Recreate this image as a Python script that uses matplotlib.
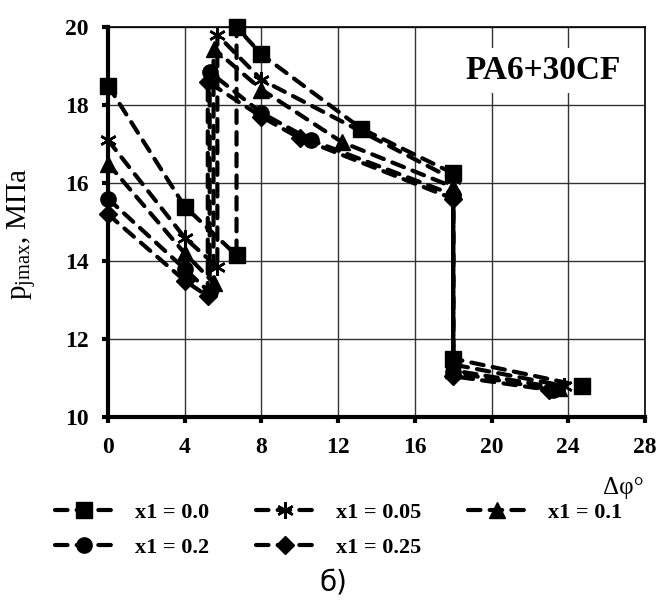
import matplotlib
matplotlib.use("Agg")
import matplotlib.pyplot as plt

# Δφ (deg) and p_jmax (MPa) for each x1 series
labels = ["x1 = 0.0", "x1 = 0.05", "x1 = 0.1", "x1 = 0.2", "x1 = 0.25"]
markers = ["s", (6, 2, 0), "^", "o", "D"]

x_00 = [0, 4, 6.7, 6.7, 8, 13.2, 18, 18, 24.7]
y_00 = [18.5, 15.4, 14.15, 20.0, 19.3, 17.4, 16.25, 11.5, 10.8]

x_05 = [0, 4, 5.7, 5.7, 8, 18, 18, 23.8]
y_05 = [17.1, 14.6, 13.85, 19.8, 18.65, 16.1, 11.35, 10.8]

x_10 = [0, 4, 5.5, 5.5, 8, 12.2, 18, 18, 23.5]
y_10 = [16.5, 14.2, 13.45, 19.45, 18.4, 17.05, 15.9, 11.2, 10.75]

x_20 = [0, 4, 5.3, 5.3, 8, 10.6, 18, 18, 23.2]
y_20 = [15.6, 13.8, 13.2, 18.85, 17.8, 17.1, 15.7, 11.15, 10.7]

x_25 = [0, 4, 5.2, 5.2, 8, 10.0, 18, 18, 23.0]
y_25 = [15.2, 13.5, 13.1, 18.6, 17.7, 17.15, 15.6, 11.05, 10.7]

series = [(x_00, y_00), (x_05, y_05), (x_10, y_10), (x_20, y_20), (x_25, y_25)]

x_ticks = [0, 4, 8, 12, 16, 20, 24, 28]
y_ticks = [10, 12, 14, 16, 18, 20]

serif = ["Liberation Serif", "DejaVu Serif"]

fig = plt.figure(figsize=(6.67, 6.02), dpi=100)
ax = fig.add_axes([0.162, 0.307, 0.805, 0.648])

handles = []
for (xs, ys), m, lab in zip(series, markers, labels):
    if m == "s" or m == "o":
        ms = 11
    elif m == "D":
        ms = 9.5
    else:
        ms = 12
    mew = 1.8 if isinstance(m, tuple) else 1.0
    ln, = ax.plot(xs, ys, color="black", lw=3.0, ls=(0, (3.0, 2.2)),
                  marker=m, ms=ms, mew=mew, mfc="black", mec="black",
                  dash_capstyle="round", zorder=3, label=lab, clip_on=False)
    handles.append(ln)

ax.set_xlim(0, 28)
ax.set_ylim(10, 20)
ax.set_xticks(x_ticks)
ax.set_yticks(y_ticks)
ax.grid(True, color="#333333", lw=1.0)
ax.set_axisbelow(True)

for side in ("top", "right"):
    ax.spines[side].set_linewidth(1.2)
for side in ("left", "bottom"):
    ax.spines[side].set_linewidth(3.0)
ax.tick_params(direction="out", length=4, width=3, pad=10)
for t in ax.get_xticklabels() + ax.get_yticklabels():
    t.set_fontfamily(serif)
    t.set_fontweight("bold")
    t.set_fontsize(17)

ax.set_ylabel(r"p$_{\mathregular{jmax}}$, МПа", fontfamily=serif,
              fontsize=21)
ax.yaxis.set_label_coords(-0.128, 0.47)
fig.text(0.935, 0.189, "Δφ°", fontfamily=serif, fontsize=18, ha="center", va="center")

ax.text(22.7, 18.9, "PA6+30CF", fontfamily=serif, fontweight="bold", fontsize=24,
        ha="center", va="center", zorder=4,
        bbox=dict(facecolor="white", edgecolor="none", pad=5))

# row-wise legend order for a 3-column layout
order = [0, 3, 1, 4, 2]
leg = fig.legend(handles=[handles[i] for i in order], loc="upper left",
                 bbox_to_anchor=(55 / 667, 0.165), borderaxespad=0, borderpad=0,
                 ncol=3, frameon=False, handlelength=2.6, handletextpad=1.0,
                 columnspacing=2.1, labelspacing=0.65,
                 prop={"family": serif, "weight": "bold", "size": 16})

fig.text(0.5, 0.033, "б)", fontsize=20, ha="center", va="center",
         fontfamily=["DejaVu Sans"])

fig.savefig("out.png", dpi=100, facecolor="white")
